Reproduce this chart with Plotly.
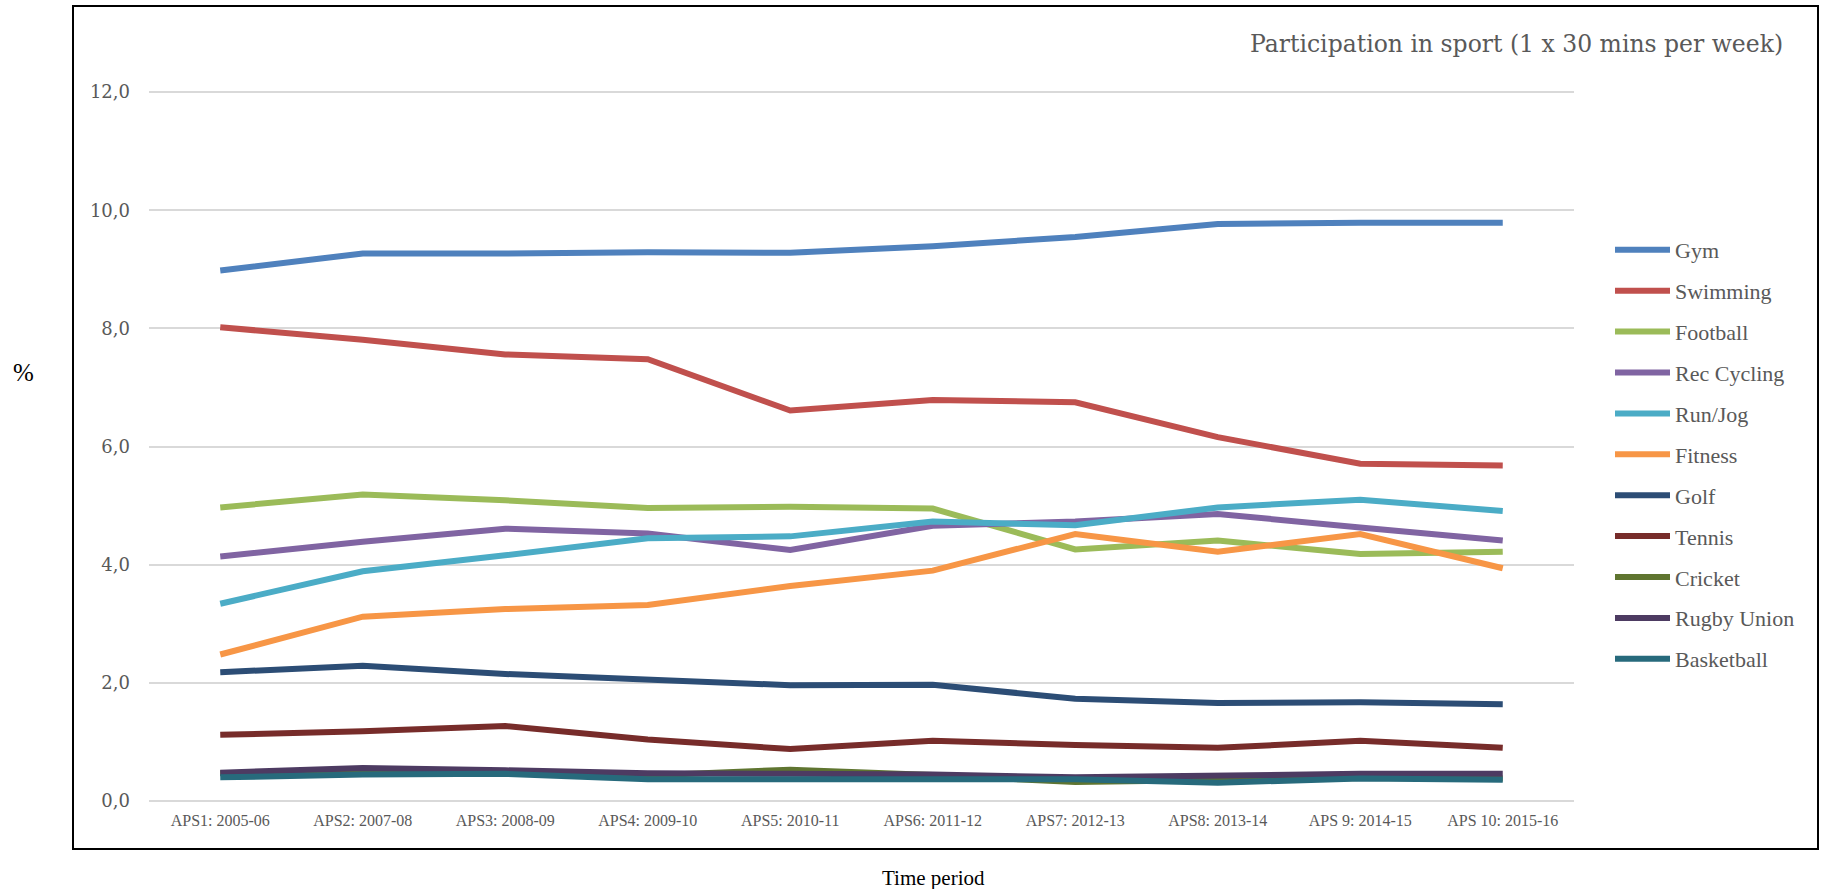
import plotly.graph_objects as go

# periodos y valores (%)
periods = ["APS1: 2005-06", "APS2: 2007-08", "APS3: 2008-09", "APS4: 2009-10",
           "APS5: 2010-11", "APS6: 2011-12", "APS7: 2012-13", "APS8: 2013-14",
           "APS 9: 2014-15", "APS 10: 2015-16"]

gym = [8.98, 9.27, 9.27, 9.29, 9.28, 9.39, 9.55, 9.77, 9.79, 9.79]
swimming = [8.02, 7.81, 7.56, 7.48, 6.61, 6.79, 6.75, 6.16, 5.71, 5.68]
football = [4.97, 5.19, 5.09, 4.96, 4.98, 4.95, 4.26, 4.41, 4.18, 4.22]
rec_cycling = [4.14, 4.39, 4.61, 4.53, 4.25, 4.66, 4.73, 4.86, 4.63, 4.41]
run_jog = [3.34, 3.89, 4.16, 4.45, 4.48, 4.73, 4.67, 4.97, 5.10, 4.91]
fitness = [2.48, 3.12, 3.25, 3.32, 3.64, 3.90, 4.52, 4.22, 4.52, 3.94]
golf = [2.18, 2.29, 2.15, 2.05, 1.96, 1.97, 1.73, 1.66, 1.67, 1.64]
tennis = [1.12, 1.18, 1.27, 1.04, 0.88, 1.02, 0.95, 0.90, 1.02, 0.90]
cricket = [0.47, 0.50, 0.50, 0.43, 0.53, 0.44, 0.32, 0.36, 0.39, 0.38]
rugby_union = [0.48, 0.56, 0.52, 0.47, 0.46, 0.45, 0.40, 0.44, 0.46, 0.46]
basketball = [0.40, 0.45, 0.46, 0.37, 0.37, 0.37, 0.37, 0.31, 0.38, 0.36]

series = [
    ("Gym", gym, "#4F81BD"),
    ("Swimming", swimming, "#C0504D"),
    ("Football", football, "#9BBB59"),
    ("Rec Cycling", rec_cycling, "#8064A2"),
    ("Run/Jog", run_jog, "#4BACC6"),
    ("Fitness", fitness, "#F79646"),
    ("Golf", golf, "#2C4D75"),
    ("Tennis", tennis, "#772C2A"),
    ("Cricket", cricket, "#5F7530"),
    ("Rugby Union", rugby_union, "#4D3B62"),
    ("Basketball", basketball, "#276A7C"),
]

W, H = 1821, 889
L, R, T, B = 149, 247, 91, 88
pw, ph = W - L - R, H - T - B

def px_x(x):
    return (x - L) / pw

def px_y(y):
    return (H - B - y) / ph

fig = go.Figure()
for name, vals, color in series:
    fig.add_trace(go.Scatter(
        x=periods, y=vals, name=name, mode="lines",
        legendgroup=name,
        line=dict(color=color, width=6),
        hovertemplate="%{x}: %{y:.1f}<extra>" + name + "</extra>",
    ))

grey = "#595959"
fig.update_layout(
    width=W, height=H,
    margin=dict(l=L, r=R, t=T, b=B, pad=0),
    paper_bgcolor="white", plot_bgcolor="white",
    separators=", ",
    font=dict(family="Liberation Serif", color=grey),
    showlegend=True,
    legend=dict(
        x=px_x(1610), y=px_y(229), xanchor="left", yanchor="top",
        font=dict(family="Liberation Serif", size=22, color=grey),
        tracegroupgap=9.3, itemwidth=55, bgcolor="rgba(0,0,0,0)",
    ),
    xaxis=dict(
        type="category", range=[-0.5, 9.5],
        showgrid=False, showline=False, zeroline=False,
        ticks="", ticklabelstandoff=8,
        tickfont=dict(family="Liberation Serif", size=16, color=grey),
    ),
    yaxis=dict(
        range=[0, 12.02], dtick=2, tickformat=".1f",
        showgrid=True, gridcolor="#D9D9D9", gridwidth=1.5,
        zeroline=True, zerolinecolor="#D9D9D9", zerolinewidth=2,
        showline=False, ticks="", ticklabelstandoff=18,
        tickfont=dict(family="DejaVu Serif", size=18, color=grey),
    ),
)

# marco exterior del grafico
fig.add_shape(type="rect", xref="paper", yref="paper",
              x0=px_x(73), x1=px_x(1818), y0=px_y(849), y1=px_y(6),
              line=dict(color="black", width=2), fillcolor="rgba(0,0,0,0)")

fig.add_annotation(text="Participation in sport (1 x 30 mins per week)",
                   xref="paper", yref="paper", x=px_x(1785), y=px_y(44),
                   xanchor="right", yanchor="middle", showarrow=False,
                   font=dict(family="DejaVu Serif", size=23.5, color=grey))
fig.add_annotation(text="%", xref="paper", yref="paper",
                   x=px_x(23), y=px_y(372), xanchor="center", yanchor="middle",
                   showarrow=False,
                   font=dict(family="Liberation Serif", size=25, color="black"))
fig.add_annotation(text="Time period", xref="paper", yref="paper",
                   x=px_x(933), y=px_y(878), xanchor="center", yanchor="middle",
                   showarrow=False,
                   font=dict(family="Liberation Serif", size=21, color="black"))

fig.write_html("out.html", config={"displayModeBar": False},
               post_script="document.body.style.margin='0';")
